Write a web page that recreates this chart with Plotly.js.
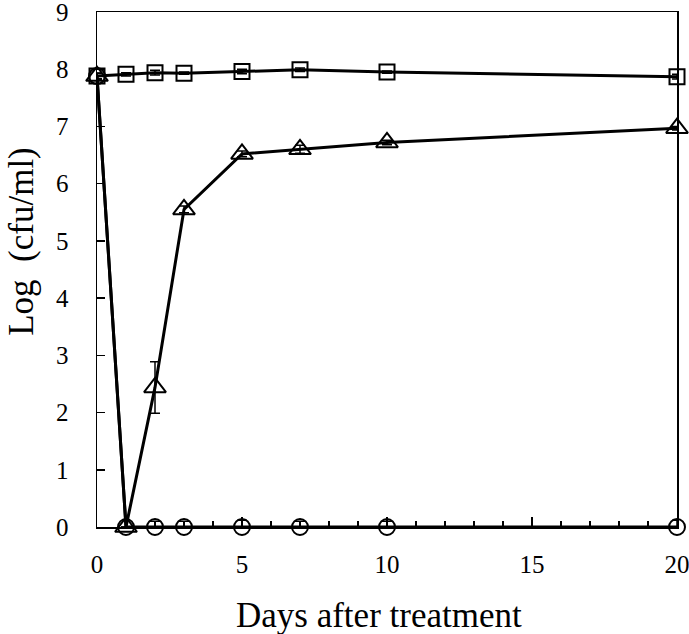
<!DOCTYPE html>
<html><head><meta charset="utf-8">
<script src="https://cdn.plot.ly/plotly-3.0.1.min.js"></script>
<style>body{margin:0;background:#fff}#c{width:689px;height:634px}</style>
</head><body><div id="c"></div>
<script>
const days = [0, 1, 2, 3, 5, 7, 10, 20];
const control = [7.88, 7.91, 7.94, 7.93, 7.96, 7.99, 7.95, 7.87];
const controlErr = [0.05, 0.03, 0.04, 0.02, 0.04, 0.03, 0.02, 0.04];
const treatedA = [7.88, 0, 2.44, 5.55, 6.52, 6.6, 6.72, 6.97];
const treatedAErr = [0.05, 0, 0.45, 0.06, 0.05, 0.07, 0.04, 0.03];
const treatedB = [7.88, 0, 0, 0, 0, 0, 0, 0];
const treatedBErr = [0.05, 0, 0.1, 0.1, 0.12, 0.1, 0.1, 0.12];
const yTitle = 'Log  (cfu/ml)';
const xTitle = 'Days after treatment';

function tr(y, err, sym, size) {
  return {
    x: days, y: y, type: 'scatter', mode: 'lines+markers',
    line: {color: '#000', width: 3},
    marker: {symbol: sym, size: size, color: '#000', line: {color: '#000', width: 2}},
    error_y: {type: 'data', array: err, visible: true, color: '#000', thickness: 1.5, width: 5},
    showlegend: false, cliponaxis: false
  };
}
const data = [
  tr(treatedB, treatedBErr, 'circle-open', 16),
  tr(treatedA, treatedAErr, 'triangle-up-open', 19),
  tr(control, controlErr, 'square-open', 15)
];
const layout = {
  width: 689, height: 634,
  margin: {l: 97, r: 12, t: 12, b: 107},
  paper_bgcolor: '#fff', plot_bgcolor: '#fff',
  font: {family: 'Liberation Serif, Times New Roman, serif', color: '#000', size: 25},
  xaxis: {
    range: [0, 20], tickvals: [0, 5, 10, 15, 20], ticks: 'inside', ticklen: 10, tickwidth: 1.5,
    tickcolor: '#000', showline: true, linecolor: '#000', linewidth: 1.5, mirror: true,
    showgrid: false, zeroline: false, ticklabelstandoff: 14, ticklabeloverflow: 'allow',
    tickfont: {size: 25},
    minor: {dtick: 1, ticks: 'inside', ticklen: 6, tickwidth: 1.5, tickcolor: '#000', showgrid: false}
  },
  yaxis: {
    range: [0, 9], tickvals: [0,1,2,3,4,5,6,7,8,9], ticks: 'inside', ticklen: 8, tickwidth: 1.5,
    tickcolor: '#000', showline: true, linecolor: '#000', linewidth: 1.5, mirror: true,
    showgrid: false, zeroline: false, ticklabelstandoff: 22, ticklabeloverflow: 'allow',
    tickfont: {size: 25}
  },
  annotations: [{
    text: yTitle, xref: 'paper', yref: 'paper', x: -0.13, y: 0.555,
    xanchor: 'center', yanchor: 'middle', textangle: -90, showarrow: false,
    font: {size: 35}
  }, {
    text: xTitle, xref: 'paper', yref: 'paper', x: 0.486, y: -0.172,
    xanchor: 'center', yanchor: 'middle', showarrow: false,
    font: {size: 35}
  }]
};
Plotly.newPlot('c', data, layout, {staticPlot: true});
</script></body></html>
